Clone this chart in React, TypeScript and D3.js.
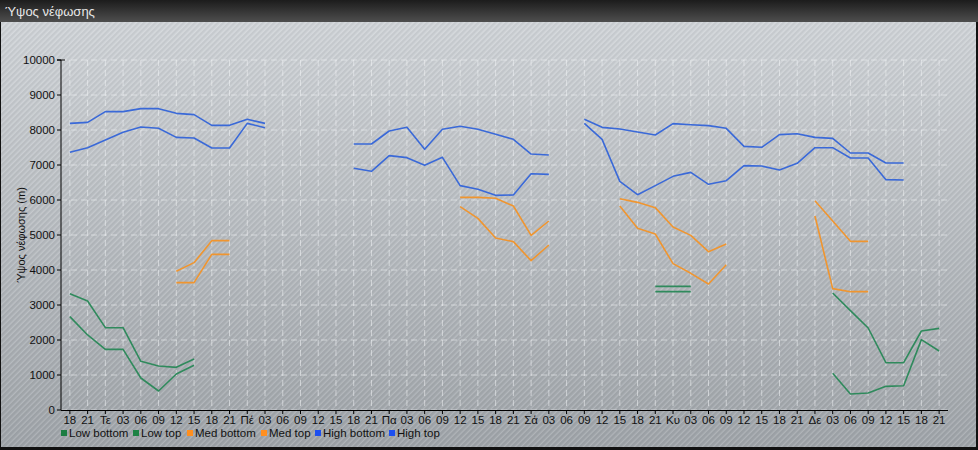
import React from "react";
import * as d3 from "d3";

const N = null;

const xLabels: string[] = [
  "18","21","Τε","03","06","09","12","15","18","21",
  "Πέ","03","06","09","12","15","18","21",
  "Πα","03","06","09","12","15","18","21",
  "Σά","03","06","09","12","15","18","21",
  "Κυ","03","06","09","12","15","18","21",
  "Δε","03","06","09","12","15","18","21",
];

const yTicks = [0,1000,2000,3000,4000,5000,6000,7000,8000,9000,10000];

const lowBottom: (number | null)[] = [
  2667,2143,1733,1733,914,543,1029,1276,N,N,
  N,N,N,N,N,N,N,N,N,N,
  N,N,N,N,N,N,N,N,N,N,
  N,N,N,3381,3381,3381,N,N,N,N,
  N,N,N,1048,457,486,676,695,2010,1686,
];
const lowTop: (number | null)[] = [
  3323,3114,2352,2352,1390,1257,1219,1457,N,N,
  N,N,N,N,N,N,N,N,N,N,
  N,N,N,N,N,N,N,N,N,N,
  N,N,N,3533,3533,3533,N,N,N,N,
  N,N,N,3343,2838,2343,1352,1352,2257,2333,
];
const medBottom: (number | null)[] = [
  N,N,N,N,N,N,3638,3638,4447,4447,
  N,N,N,N,N,N,N,N,N,N,
  N,N,5810,5476,4914,4810,4267,4714,N,N,
  N,5829,5190,5029,4181,3905,3600,4152,N,N,
  N,N,5543,3467,3381,3381,N,N,N,N,
];
const medTop: (number | null)[] = [
  N,N,N,N,N,N,3962,4210,4838,4838,
  N,N,N,N,N,N,N,N,N,N,
  N,N,6076,6076,6048,5829,4990,5400,N,N,
  N,6038,5933,5781,5229,4990,4524,4743,N,N,
  N,N,5981,5400,4819,4819,N,N,N,N,
];
const highBottom: (number | null)[] = [
  7362,7495,7714,7933,8086,8048,7790,7771,7486,7486,
  8190,8067,N,N,N,N,6905,6819,7267,7210,
  6990,7219,6410,6305,6133,6143,6752,6733,N,8190,
  7733,6533,6152,6410,6676,6790,6448,6552,6981,6971,
  6857,7048,7495,7495,7200,7200,6581,6571,N,N,
];
const highTop: (number | null)[] = [
  8190,8219,8524,8524,8610,8610,8476,8438,8133,8133,
  8305,8190,N,N,N,N,7600,7600,7971,8076,
  7448,8019,8105,8019,7876,7733,7314,7286,N,8305,
  8076,8029,7943,7857,8181,8152,8124,8048,7533,7505,
  7867,7895,7790,7762,7343,7343,7057,7057,N,N,
];

const seriesNames = ["Low bottom","Low top","Med bottom","Med top","High bottom","High top"];
const seriesData = [lowBottom, lowTop, medBottom, medTop, highBottom, highTop];
const lineColors = ["#2f8a5c","#2f8a5c","#f0952f","#f0952f","#3a69d8","#3a69d8"];
const swatchColors = ["#1c7d42","#1c8244","#ff8f1f","#ff8f1f","#1c4ff0","#1c4ff0"];

const W = 978, H = 450;
const FONT = "'Liberation Sans', Arial, sans-serif";

export default function App() {
  const x = d3.scalePoint<number>().domain(d3.range(xLabels.length)).range([61, 948]).padding(0.5);
  const y = d3.scaleLinear().domain([0, 10000]).range([410, 60]);
  const line = d3.line<number | null>()
    .defined((d) => d !== null)
    .x((_, i) => x(i) as number)
    .y((d) => y(d as number));
  const legendX = [60, 132, 186, 260, 314, 388];

  return (
    <svg width={W} height={H} style={{ position: "fixed", left: 0, top: 0, display: "block" }} fontFamily={FONT}>
      <defs>
        <linearGradient id="bg" x1="0" y1="0" x2="0" y2="1">
          <stop offset="0" stopColor="#d0d4d8" />
          <stop offset="1" stopColor="#a0a5aa" />
        </linearGradient>
        <linearGradient id="title" x1="0" y1="0" x2="0" y2="1">
          <stop offset="0" stopColor="#1c1c1c" />
          <stop offset="1" stopColor="#4e4e4e" />
        </linearGradient>
        <pattern id="hatch" width="4" height="4" patternUnits="userSpaceOnUse" patternTransform="rotate(45)">
          <line x1="0" y1="0" x2="0" y2="4" stroke="#ffffff" strokeOpacity="0.22" strokeWidth="1.4" />
          <line x1="2" y1="0" x2="2" y2="4" stroke="#000" strokeOpacity="0.07" strokeWidth="1.2" />
        </pattern>
      </defs>
      <rect x={0} y={0} width={W} height={H} fill="#111" />
      <rect x={1} y={22} width={W - 3} height={H - 25} fill="url(#bg)" />
      <rect x={1} y={22} width={W - 3} height={H - 25} fill="url(#hatch)" />
      <rect x={0} y={0} width={W} height={22} fill="url(#title)" />
      <text x={5} y={16} fill="#e8e8e8" fontSize={13}>Ύψος νέφωσης</text>

      {/* grid */}
      {yTicks.map((t) => (
        <line key={"gy" + t} x1={61} x2={948} y1={y(t)} y2={y(t)} stroke="#f4f6f8" strokeOpacity={0.55} strokeDasharray="6,4" />
      ))}
      {xLabels.map((_, i) => (
        <line key={"gx" + i} x1={x(i)} x2={x(i)} y1={60} y2={410} stroke="#f4f6f8" strokeOpacity={0.55} strokeDasharray="6,4" />
      ))}

      {/* axes */}
      <line x1={61} x2={61} y1={60} y2={410} stroke="#000" />
      <line x1={61} x2={948} y1={410.5} y2={410.5} stroke="#000" />
      {yTicks.map((t) => (
        <g key={"ty" + t}>
          <line x1={57} x2={61} y1={y(t)} y2={y(t)} stroke="#000" />
          <text x={55} y={y(t) + 4} textAnchor="end" fontSize={11.5} fill="#111">{t}</text>
        </g>
      ))}
      <line x1={57} x2={65} y1={60} y2={60} stroke="#000" />
      {xLabels.map((lab, i) => (
        <g key={"tx" + i}>
          <line x1={x(i)} x2={x(i)} y1={410} y2={414} stroke="#000" />
          <text x={x(i)} y={424} textAnchor="middle" fontSize={11.5} fill="#111">{lab}</text>
        </g>
      ))}
      <text transform="translate(25,235) rotate(-90)" textAnchor="middle" fontSize={11} fill="#111">Ύψος νέφωσης (m)</text>

      {/* series */}
      {seriesData.map((s, k) => (
        <path key={"s" + k} d={line(s) || ""} fill="none" stroke={lineColors[k]} strokeWidth={1.6} strokeLinejoin="round" />
      ))}

      {/* legend */}
      {seriesNames.map((n, k) => (
        <g key={"lg" + k}>
          <rect x={legendX[k] + 1} y={430} width={6} height={6} fill={swatchColors[k]} />
          <text x={legendX[k] + 9} y={437} fontSize={11.5} fill="#111">{n}</text>
        </g>
      ))}
    </svg>
  );
}
